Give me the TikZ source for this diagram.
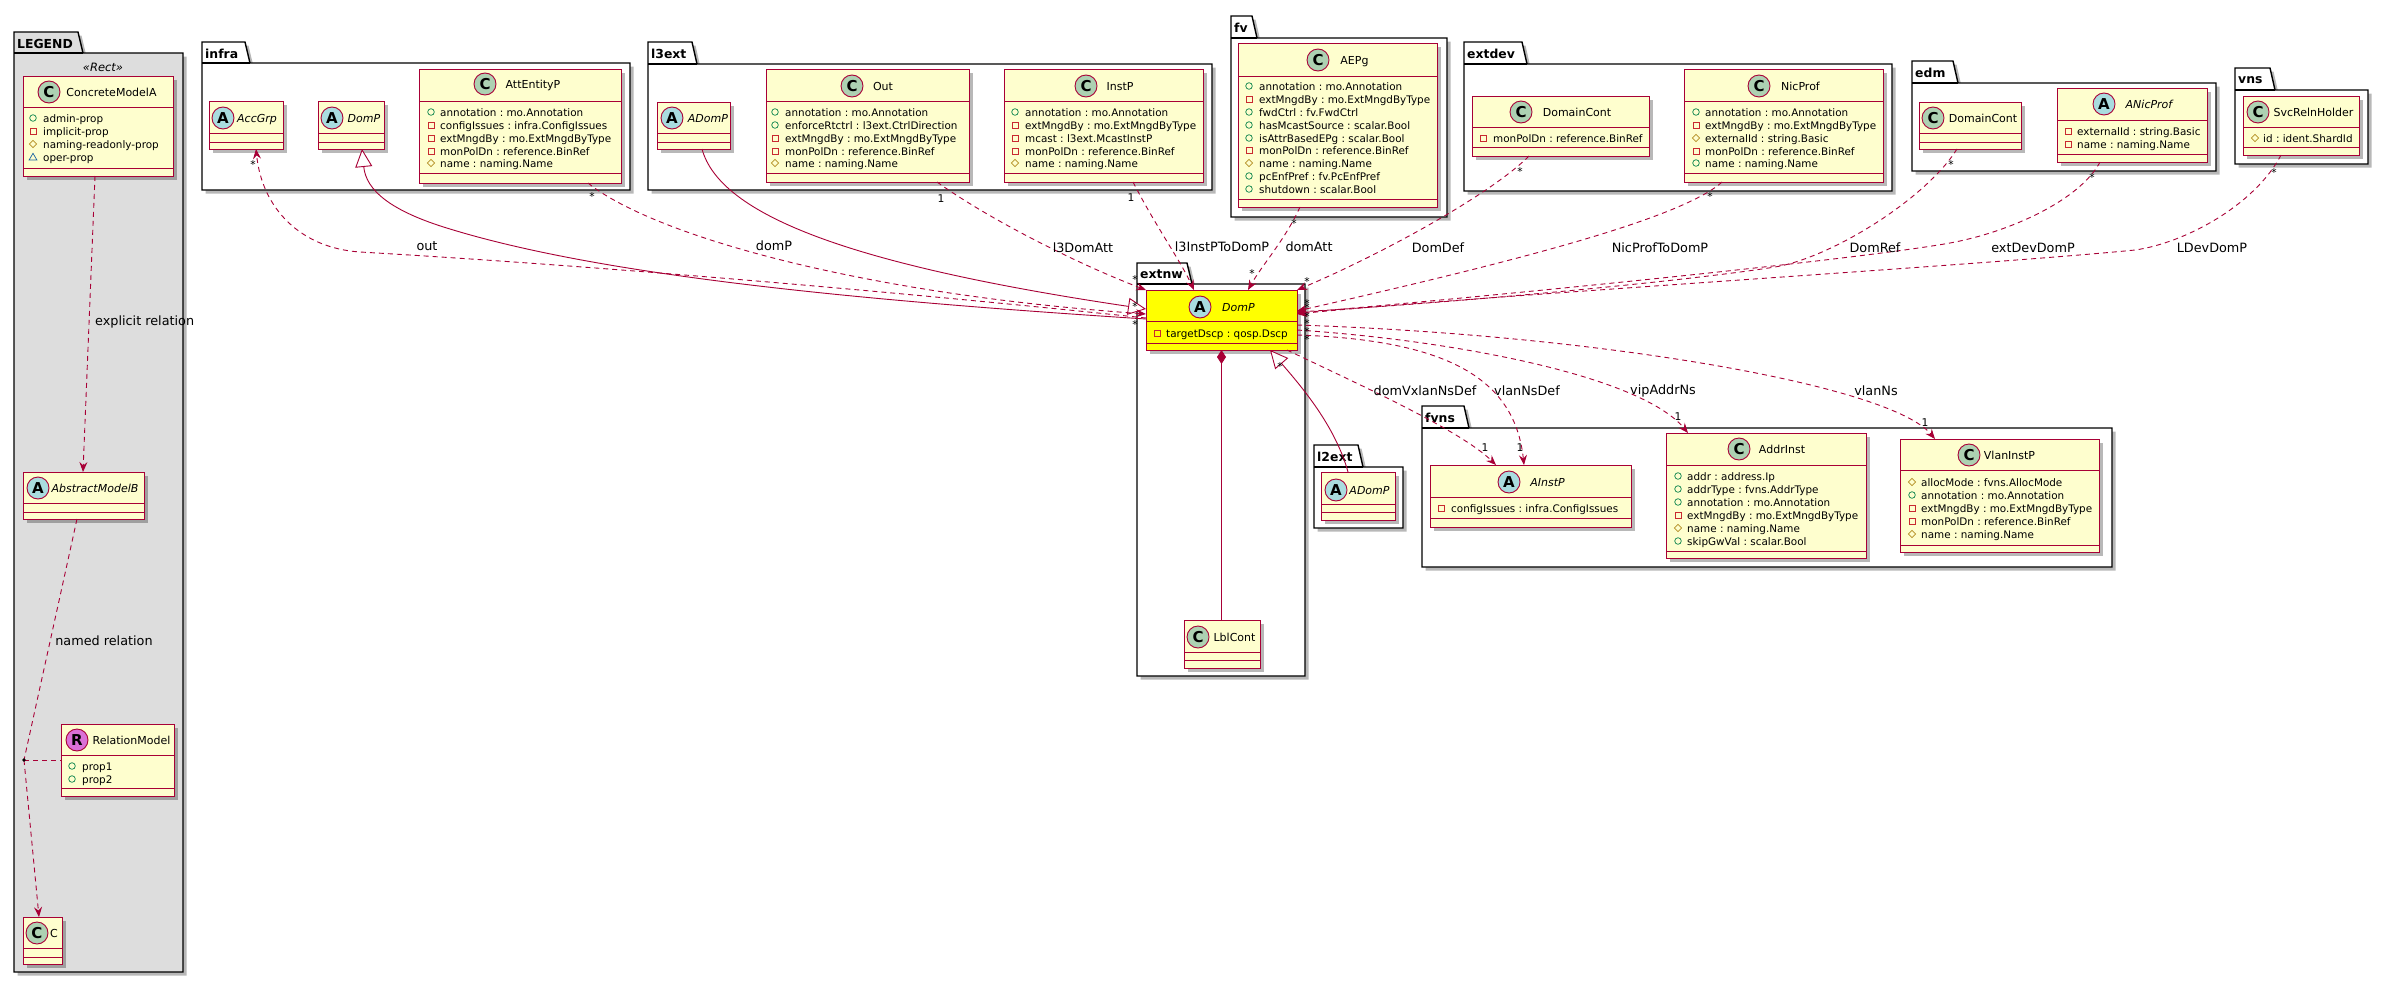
\documentclass[tikz,border=0pt]{standalone}
\usepackage{fontspec}
\setmainfont{DejaVu Sans}
\frenchspacing
\usetikzlibrary{arrows.meta,shadows,calc}
\definecolor{crim}{HTML}{A80036}
\definecolor{clsfill}{HTML}{FEFECE}
\definecolor{cgreen}{HTML}{ADD1B2}
\definecolor{ablue}{HTML}{A9DCDF}
\definecolor{rpink}{HTML}{DA70D6}
\definecolor{pubc}{HTML}{038048}
\definecolor{privc}{HTML}{C82930}
\definecolor{protc}{HTML}{B38D22}
\definecolor{pkgblue}{HTML}{1963A0}
\definecolor{legfill}{HTML}{DDDDDD}
\definecolor{dompyel}{HTML}{FFFF00}
\tikzset{
  clsnode/.style={draw=crim, line width=1pt, inner sep=0pt, outer sep=0pt,
    drop shadow={shadow xshift=3.5pt, shadow yshift=-3.5pt, opacity=0.28, fill=black}},
  clsline/.style={draw=crim, line width=1pt},
  circ/.style={circle, draw=crim, line width=0.9pt, minimum size=22pt, inner sep=0pt,
    font=\fontsize{15}{15}\selectfont\bfseries},
  clsname/.style={anchor=base, inner sep=0pt, font=\fontsize{11}{13}\selectfont},
  member/.style={anchor=base west, inner sep=0pt, font=\fontsize{10.4}{13}\selectfont},
  pkgline/.style={draw=black, line width=1.4pt, line join=miter},
  pkgshadow/.style={drop shadow={shadow xshift=3.5pt, shadow yshift=-3.5pt, opacity=0.28, fill=black}},
  pkgname/.style={anchor=west, inner sep=0pt, font=\fontsize{12.4}{14}\selectfont\bfseries},
  rel/.style={draw=crim, line width=0.9pt, dash pattern=on 5pt off 4pt},
  arr/.style={-{Stealth[length=10pt,width=8pt,inset=3.5pt]}},
  inh/.style={draw=crim, line width=0.9pt, -{Triangle[length=18pt,width=17pt,fill=white]}},
  comp/.style={draw=crim, line width=0.9pt, {Diamond[length=14pt,width=9pt]}-},
  elbl/.style={inner sep=0pt, font=\fontsize{12.8}{14}\selectfont},
  mult/.style={inner sep=0pt, font=\fontsize{10.7}{12}\selectfont},
}
\newcommand\clsbox[8]{%
  \node[clsnode, fill=#8, minimum width={(#4-#2)*1pt}, minimum height={(#5-#3)*1pt}]
    (#1) at ({(#2+#4)/2},{(#3+#5)/2}) {};
  \draw[clsline] (#2,#6) -- (#4,#6) (#2,#7) -- (#4,#7);}
\newcommand\clshead[7]{%
  \node[circ, fill=#5] (#1-c) at (#2,#3) {#4};
  \node[clsname] (#1-t) at (#6,{#3+4}) {#7};}
\newcommand\iconpub[2]{\draw[draw=pubc, line width=0.7pt] (#1,#2) circle[radius=3.3];}
\newcommand\iconpriv[2]{\draw[draw=privc, line width=0.7pt] ({#1-3},{#2-3}) rectangle ({#1+3},{#2+3});}
\newcommand\iconprot[2]{\draw[draw=protc, line width=0.7pt] ({#1-3.7},#2) -- (#1,{#2-3.7}) -- ({#1+3.7},#2) -- (#1,{#2+3.7}) -- cycle;}
\newcommand\iconpkg[2]{\draw[draw=pkgblue, line width=0.7pt] ({#1-3.9},{#2+3}) -- (#1,{#2-3.7}) -- ({#1+3.9},{#2+3}) -- cycle;}
\newcommand\clsattr[6]{%
  \csname icon#5\endcsname{#2}{#4}%
  \node[member] (#1) at (#3,{#4+4}) {#6};}
\newcommand\umlpkg[9]{%
  \draw[pkgline, fill=#9, pkgshadow] (#2,#4) -- (#3,#4) -- ({#3+5},#5) -- (#6,#5) -- (#6,#7) -- (#2,#7) -- cycle;
  \draw[pkgline] (#2,#5) -- ({#3+5},#5);
  \node[pkgname] (#1) at ({#2+3},{(#4+#5)/2+1}) {#8};}
\begin{document}
\begin{tikzpicture}[x=1pt,y=-1pt]
\useasboundingbox (0,0) rectangle (2388,993);
\fill[white] (0,0) rectangle (2388,993);
% ---------------- packages
\umlpkg{pkg-legend}{14}{78}{32}{53}{183}{972}{LEGEND}{legfill}
\umlpkg{pkg-infra}{202}{245}{42}{63}{630}{190}{infra}{white}
\umlpkg{pkg-l3ext}{648}{692}{42}{64}{1212}{190}{l3ext}{white}
\umlpkg{pkg-fv}{1231}{1252}{16}{38}{1447}{217}{fv}{white}
\umlpkg{pkg-extdev}{1464}{1522}{42}{64}{1892}{191}{extdev}{white}
\umlpkg{pkg-edm}{1912}{1953}{61}{83}{2216}{171}{edm}{white}
\umlpkg{pkg-vns}{2235}{2270}{68}{90}{2368}{164}{vns}{white}
\umlpkg{pkg-extnw}{1137}{1187}{263}{284}{1305}{676}{extnw}{white}
\umlpkg{pkg-l2ext}{1314}{1358}{445}{467}{1403}{528}{l2ext}{white}
\umlpkg{pkg-fvns}{1422}{1464}{406}{428}{2112}{567}{fvns}{white}
\node[inner sep=0pt, font=\fontsize{11.5}{13}\selectfont\itshape] (stereo) at (103,67) {«Rect»};
% ---------------- classes: LEGEND
\clsbox{cma}{23}{76}{173}{176}{107}{168}{clsfill}
\clshead{cma}{49}{92}{C}{cgreen}{111.5}{ConcreteModelA}
\clsattr{cma-1}{33}{43}{118}{pub}{admin-prop}
\clsattr{cma-2}{33}{43}{131}{priv}{implicit-prop}
\clsattr{cma-3}{33}{43}{144}{prot}{naming-readonly-prop}
\clsattr{cma-4}{33}{43}{157}{pkg}{oper-prop}
\clsbox{amb}{23}{472}{144}{519}{503}{512}{clsfill}
\clshead{amb}{38}{488}{A}{ablue}{95}{\itshape AbstractModelB}
\clsbox{relm}{61}{724}{174}{796}{755}{788}{clsfill}
\clshead{relm}{77}{740}{R}{rpink}{131.5}{RelationModel}
\clsattr{relm-1}{72}{82}{766}{pub}{prop1}
\clsattr{relm-2}{72}{82}{779}{pub}{prop2}
\clsbox{cc}{23}{917}{62}{964}{948}{957}{clsfill}
\clshead{cc}{37}{933}{C}{cgreen}{54}{C}
% infra
\clsbox{accgrp}{209}{101}{283}{149}{133}{142}{clsfill}
\clshead{accgrp}{223}{118}{A}{ablue}{257}{\itshape AccGrp}
\clsbox{infradomp}{318}{101}{384}{149}{133}{142}{clsfill}
\clshead{infradomp}{332}{118}{A}{ablue}{364}{\itshape DomP}
\clsbox{attentityp}{419}{69}{621}{183}{101}{173}{clsfill}
\clshead{attentityp}{485}{84}{C}{cgreen}{533}{AttEntityP}
\clsattr{attentityp-1}{431}{440}{112}{pub}{annotation : mo.Annotation}
\clsattr{attentityp-2}{431}{440}{125}{priv}{configIssues : infra.ConfigIssues}
\clsattr{attentityp-3}{431}{440}{138}{priv}{extMngdBy : mo.ExtMngdByType}
\clsattr{attentityp-4}{431}{440}{151}{priv}{monPolDn : reference.BinRef}
\clsattr{attentityp-5}{431}{440}{163}{prot}{name : naming.Name}
% l3ext
\clsbox{l3adomp}{657}{102}{730}{149}{133}{142}{clsfill}
\clshead{l3adomp}{672}{118}{A}{ablue}{708}{\itshape ADomP}
\clsbox{out}{766}{69}{969}{182}{101}{173}{clsfill}
\clshead{out}{852}{86}{C}{cgreen}{883}{Out}
\clsattr{out-1}{775}{785}{112}{pub}{annotation : mo.Annotation}
\clsattr{out-2}{775}{785}{125}{pub}{enforceRtctrl : l3ext.CtrlDirection}
\clsattr{out-3}{775}{785}{138}{priv}{extMngdBy : mo.ExtMngdByType}
\clsattr{out-4}{775}{785}{151}{priv}{monPolDn : reference.BinRef}
\clsattr{out-5}{775}{785}{163}{prot}{name : naming.Name}
\clsbox{instp}{1004}{69}{1203}{182}{101}{173}{clsfill}
\clshead{instp}{1086}{86}{C}{cgreen}{1120}{InstP}
\clsattr{instp-1}{1015}{1025}{112}{pub}{annotation : mo.Annotation}
\clsattr{instp-2}{1015}{1025}{125}{priv}{extMngdBy : mo.ExtMngdByType}
\clsattr{instp-3}{1015}{1025}{138}{priv}{mcast : l3ext.McastInstP}
\clsattr{instp-4}{1015}{1025}{151}{priv}{monPolDn : reference.BinRef}
\clsattr{instp-5}{1015}{1025}{163}{prot}{name : naming.Name}
% fv
\clsbox{aepg}{1238}{43}{1437}{207}{76}{199}{clsfill}
\clshead{aepg}{1318}{60}{C}{cgreen}{1354.5}{AEPg}
\clsattr{aepg-1}{1249}{1259}{86}{pub}{annotation : mo.Annotation}
\clsattr{aepg-2}{1249}{1259}{99}{priv}{extMngdBy : mo.ExtMngdByType}
\clsattr{aepg-3}{1249}{1259}{112}{pub}{fwdCtrl : fv.FwdCtrl}
\clsattr{aepg-4}{1249}{1259}{125}{pub}{hasMcastSource : scalar.Bool}
\clsattr{aepg-5}{1249}{1259}{138}{pub}{isAttrBasedEPg : scalar.Bool}
\clsattr{aepg-6}{1249}{1259}{150}{priv}{monPolDn : reference.BinRef}
\clsattr{aepg-7}{1249}{1259}{163}{prot}{name : naming.Name}
\clsattr{aepg-8}{1249}{1259}{176}{pub}{pcEnfPref : fv.PcEnfPref}
\clsattr{aepg-9}{1249}{1259}{189}{pub}{shutdown : scalar.Bool}
% extdev
\clsbox{extdomcont}{1472}{96}{1649}{156}{127}{147}{clsfill}
\clshead{extdomcont}{1521}{112}{C}{cgreen}{1577}{DomainCont}
\clsattr{extdomcont-1}{1483}{1493}{138}{priv}{monPolDn : reference.BinRef}
\clsbox{nicprof}{1684}{69}{1883}{182}{101}{173}{clsfill}
\clshead{nicprof}{1759}{86}{C}{cgreen}{1800.5}{NicProf}
\clsattr{nicprof-1}{1696}{1705}{112}{pub}{annotation : mo.Annotation}
\clsattr{nicprof-2}{1696}{1705}{125}{priv}{extMngdBy : mo.ExtMngdByType}
\clsattr{nicprof-3}{1696}{1705}{138}{prot}{externalId : string.Basic}
\clsattr{nicprof-4}{1696}{1705}{151}{priv}{monPolDn : reference.BinRef}
\clsattr{nicprof-5}{1696}{1705}{163}{pub}{name : naming.Name}
% edm
\clsbox{edmdomcont}{1919}{102}{2021}{149}{133}{142}{clsfill}
\clshead{edmdomcont}{1933}{118}{C}{cgreen}{1983}{DomainCont}
\clsbox{anicprof}{2057}{88}{2207}{162}{120}{154}{clsfill}
\clshead{anicprof}{2104}{104}{A}{ablue}{2149}{\itshape ANicProf}
\clsattr{anicprof-1}{2068}{2077}{131}{priv}{externalId : string.Basic}
\clsattr{anicprof-2}{2068}{2077}{144}{priv}{name : naming.Name}
% vns
\clsbox{svcreln}{2243}{96}{2359}{155}{127}{147}{clsfill}
\clshead{svcreln}{2258}{112}{C}{cgreen}{2313.5}{SvcRelnHolder}
\clsattr{svcreln-1}{2255}{2263}{138}{prot}{id : ident.ShardId}
% extnw
\clsbox{domp}{1146}{290}{1297}{350}{321}{343}{dompyel}
\clshead{domp}{1200}{307}{A}{ablue}{1238.5}{\itshape DomP}
\clsattr{domp-1}{1157}{1166}{333}{priv}{targetDscp : qosp.Dscp}
\clsbox{lblcont}{1184}{620}{1260}{668}{652}{660}{clsfill}
\clshead{lblcont}{1198}{637}{C}{cgreen}{1234.5}{LblCont}
% l2ext
\clsbox{l2adomp}{1321}{472}{1395}{520}{504}{512}{clsfill}
\clshead{l2adomp}{1336}{490}{A}{ablue}{1369.5}{\itshape ADomP}
% fvns
\clsbox{ainstp}{1430}{465}{1631}{527}{497}{518}{clsfill}
\clshead{ainstp}{1509}{482}{A}{ablue}{1547.5}{\itshape AInstP}
\clsattr{ainstp-1}{1441}{1451}{508}{priv}{configIssues : infra.ConfigIssues}
\clsbox{addrinst}{1666}{433}{1866}{558}{465}{551}{clsfill}
\clshead{addrinst}{1739}{449}{C}{cgreen}{1782}{AddrInst}
\clsattr{addrinst-1}{1678}{1687}{476}{pub}{addr : address.Ip}
\clsattr{addrinst-2}{1678}{1687}{489}{pub}{addrType : fvns.AddrType}
\clsattr{addrinst-3}{1678}{1687}{502}{pub}{annotation : mo.Annotation}
\clsattr{addrinst-4}{1678}{1687}{515}{priv}{extMngdBy : mo.ExtMngdByType}
\clsattr{addrinst-5}{1678}{1687}{528}{prot}{name : naming.Name}
\clsattr{addrinst-6}{1678}{1687}{541}{pub}{skipGwVal : scalar.Bool}
\clsbox{vlaninstp}{1900}{439}{2099}{552}{470}{545}{clsfill}
\clshead{vlaninstp}{1969}{455}{C}{cgreen}{2009.5}{VlanInstP}
\clsattr{vlaninstp-1}{1912}{1921}{482}{prot}{allocMode : fvns.AllocMode}
\clsattr{vlaninstp-2}{1912}{1921}{495}{pub}{annotation : mo.Annotation}
\clsattr{vlaninstp-3}{1912}{1921}{508}{priv}{extMngdBy : mo.ExtMngdByType}
\clsattr{vlaninstp-4}{1912}{1921}{521}{priv}{monPolDn : reference.BinRef}
\clsattr{vlaninstp-5}{1912}{1921}{534}{prot}{name : naming.Name}
% ---------------- legend relations
\draw[rel,arr] ([xshift=-3pt]cma.south) -- ([xshift=-0.5pt]amb.north);
\node[elbl, anchor=west] (lbl-explicit) at (95,322) {explicit relation};
\coordinate (rdot) at (24,760);
\draw[rel] ([xshift=-6.5pt]amb.south) -- (rdot);
\draw[rel,arr] (rdot) -- ([xshift=-3.5pt]cc.north);
\draw[rel] (rdot) -- (relm.west);
\fill[black] (rdot) circle[radius=1.8];
\node[elbl] (lbl-named) at (104,641) {named relation};
% ---------------- left / top relations
\draw[rel,arr] ([yshift=2pt]domp.west) .. controls (900,292) and (600,266) .. (360,252) .. controls (300,248) and (262,208) .. ([xshift=10pt]accgrp.south);
\draw[inh] ([yshift=1pt]domp.west) .. controls (850,300) and (600,275) .. (450,229) .. controls (390,211) and (366,190) .. ([xshift=11pt]infradomp.south);
\draw[inh] ([xshift=8.5pt]l3adomp.south) .. controls (720,215) and (850,265) .. ([yshift=11pt]domp.west);
\draw[rel,arr] ([xshift=68pt]attentityp.south) .. controls (650,233) and (850,293) .. ([yshift=6pt]domp.west);
\draw[rel,arr] ([xshift=69.5pt]out.south) .. controls (990,220) and (1080,265) .. (domp.north west);
\draw[rel,arr] ([xshift=29.5pt]instp.south) .. controls (1155,225) and (1180,260) .. ([xshift=-27.5pt]domp.north);
\draw[rel,arr] ([xshift=-37.5pt]aepg.south) .. controls (1285,240) and (1262,265) .. ([xshift=26.5pt]domp.north);
\draw[rel,arr] ([xshift=-31.5pt]extdomcont.south) .. controls (1490,195) and (1380,255) .. (domp.north east);
\draw[rel,arr] ([xshift=-61.5pt]nicprof.south) .. controls (1680,220) and (1500,265) .. ([yshift=9pt]domp.east);
\draw[rel,arr] ([xshift=-13pt]edmdomcont.south) .. controls (1925,200) and (1830,258) .. (1775,267) .. controls (1680,282) and (1450,303) .. ([yshift=8pt]domp.east);
\draw[rel,arr] ([xshift=-32pt]anicprof.south) .. controls (2080,200) and (2010,232) .. (1950,243) .. controls (1850,261) and (1450,300) .. ([yshift=7pt]domp.east);
\draw[rel,arr] ([xshift=-20pt]svcreln.south) .. controls (2255,205) and (2185,243) .. (2135,250) .. controls (1985,265) and (1450,298) .. ([yshift=6pt]domp.east);
% ---------------- fvns relations
\draw[rel,arr] ([yshift=-5pt]domp.east) .. controls (1600,335) and (1890,385) .. ([xshift=-64.5pt]vlaninstp.north);
\draw[rel,arr] ([yshift=-10pt]domp.east) .. controls (1450,340) and (1640,375) .. ([xshift=-78pt]addrinst.north);
\draw[rel,arr] ([yshift=-15pt]domp.east) .. controls (1450,340) and (1515,380) .. ([xshift=-6.5pt]ainstp.north);
\draw[rel,arr] ([xshift=65.5pt]domp.south) .. controls (1360,385) and (1460,430) .. ([xshift=-34.5pt]ainstp.north);
% ---------------- inheritance / composition inside
\draw[inh] ([xshift=-10pt]l2adomp.north) .. controls (1335,425) and (1300,385) .. ([xshift=48.5pt]domp.south);
\draw[comp] (domp.south) -- (domp.south |- lblcont.north);
% ---------------- edge labels
\node[elbl] (lbl-out) at (427,246) {out};
\node[elbl] (lbl-domp) at (774,246) {domP};
\node[elbl] (lbl-l3domatt) at (1083,248) {l3DomAtt};
\node[elbl] (lbl-l3instp) at (1222,247) {l3InstPToDomP};
\node[elbl] (lbl-domatt) at (1309,247) {domAtt};
\node[elbl] (lbl-domdef) at (1438,248) {DomDef};
\node[elbl] (lbl-nicprof) at (1660,248) {NicProfToDomP};
\node[elbl] (lbl-domref) at (1875,248) {DomRef};
\node[elbl] (lbl-extdev) at (2033,248) {extDevDomP};
\node[elbl] (lbl-ldev) at (2212,248) {LDevDomP};
\node[elbl] (lbl-vxlan) at (1425,391) {domVxlanNsDef};
\node[elbl] (lbl-vlannsdef) at (1527,391) {vlanNsDef};
\node[elbl] (lbl-vip) at (1663,391) {vipAddrNs};
\node[elbl] (lbl-vlanns) at (1876,391) {vlanNs};
% ---------------- multiplicities
\node[mult] (m1) at (253,165) {*};
\node[mult] (m2) at (592,197) {*};
\node[mult] (m3) at (941,199) {1};
\node[mult] (m4) at (1131,198) {1};
\node[mult] (m5) at (1294,224) {*};
\node[mult] (m6) at (1520,172) {*};
\node[mult] (m7) at (1710,197) {*};
\node[mult] (m8) at (1951,165) {*};
\node[mult] (m9) at (2092,178) {*};
\node[mult] (m10) at (2274,173) {*};
\node[mult] (m11) at (1135,280) {*};
\node[mult] (m12) at (1135,307) {*};
\node[mult] (m13) at (1135,325) {*};
\node[mult] (m14) at (1252,274) {*};
\node[mult] (m15) at (1307,282) {*};
\node[mult] (m16) at (1307,304) {*};
\node[mult] (m17) at (1307,308) {*};
\node[mult] (m18) at (1307,317) {*};
\node[mult] (m19) at (1307,324) {*};
\node[mult] (m20) at (1307,332) {*};
\node[mult] (m21) at (1307,340) {*};
\node[mult] (m22) at (1280,367) {*};
\node[mult] (m23) at (1485,448) {1};
\node[mult] (m24) at (1520,448) {1};
\node[mult] (m25) at (1678,417) {1};
\node[mult] (m26) at (1925,423) {1};
\end{tikzpicture}
\end{document}
